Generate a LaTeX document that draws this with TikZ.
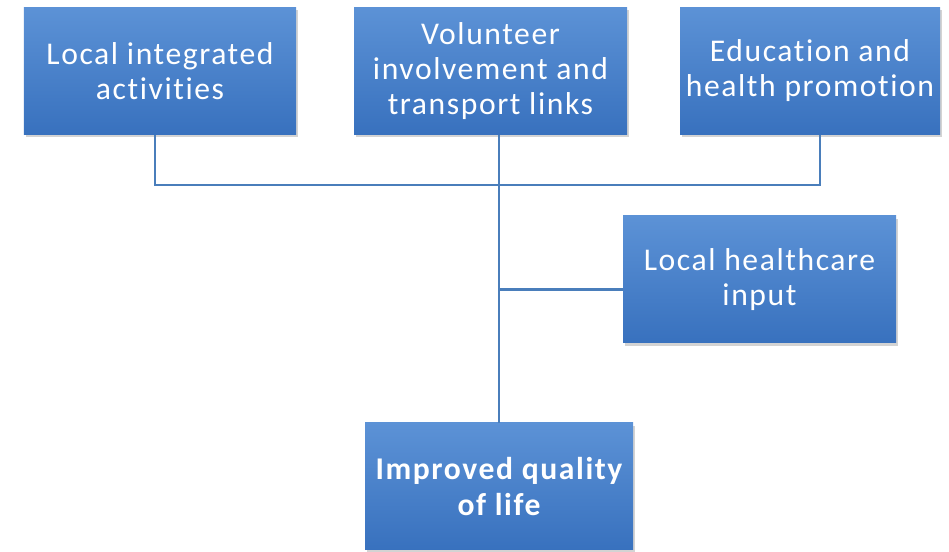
\documentclass[tikz,border=0pt]{standalone}
\usepackage{fontspec}
\setmainfont[Ligatures=NoCommon, LetterSpace=5]{Carlito}
\usetikzlibrary{positioning,shadows}
\definecolor{boxtop}{RGB}{92,146,214}
\definecolor{boxbot}{RGB}{56,113,190}
\definecolor{linkblue}{RGB}{74,126,187}
\tikzset{line/.style={draw=linkblue, line width=1.6pt},
box/.style={rectangle, top color=boxtop, bottom color=boxbot, draw=none, text=white, align=center, minimum width=54.4mm, minimum height=25.4mm, inner sep=1mm, font=\fontsize{18}{20}\selectfont, drop shadow={opacity=0.35, shadow xshift=0.4mm, shadow yshift=-0.6mm}}}

\begin{document}
\begin{tikzpicture}
\useasboundingbox (0,0) rectangle (18.98,-11.04);
% Boxes
\node[box] (local) at (3.2,-1.42) {Local integrated\\activities};
\node[box, minimum width=54.6mm] (volunteer) at (9.81,-1.42) {Volunteer\\involvement and\\transport links};
\node[box, minimum width=52mm] (educ) at (16.2,-1.42) {Education and\\health promotion};
\node[box, minimum width=54.6mm] (health) at (15.19,-5.59) {Local healthcare\\input};
\node[box, minimum width=53.6mm, font=\fontsize{18}{20}\selectfont\bfseries] (outcome) at (9.98,-9.73) {Improved quality\\of life};

% Connectors
\coordinate (hub) at (9.98,-3.7);
\draw[line] ([xshift=-1mm]local.south) |- (hub) -| ([xshift=2mm]educ.south);
\draw[line] (volunteer.south -| outcome.north) -- (outcome.north);
\draw[line] ([yshift=-2mm]health.west) -- ([yshift=-2mm]health.west -| outcome.north);
\end{tikzpicture}
\end{document}
